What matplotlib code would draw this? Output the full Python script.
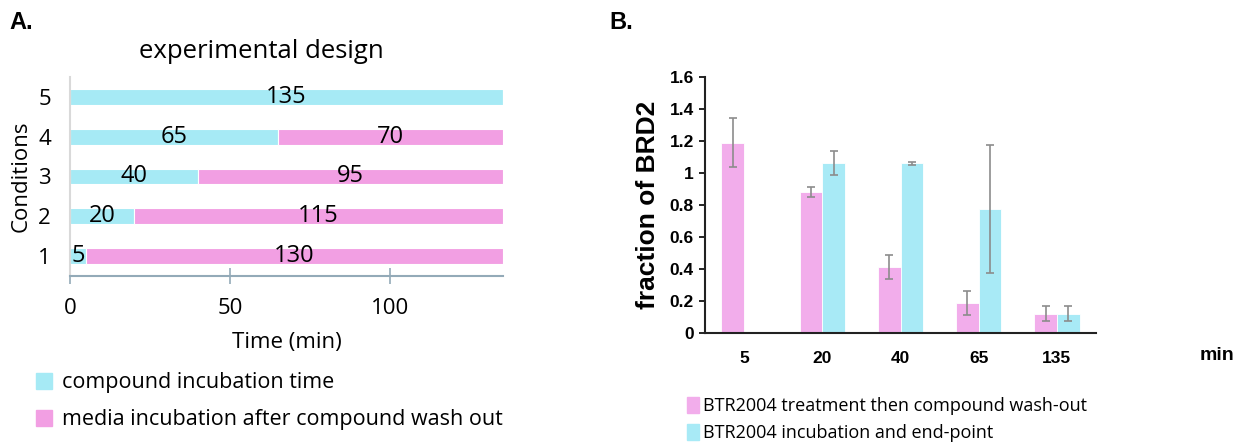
import matplotlib.pyplot as plt
import numpy as np
from matplotlib.patches import Patch

# panel A data
conditions = [1, 2, 3, 4, 5]
compound_time = [5, 20, 40, 65, 135]
media_time = [130, 115, 95, 70, 0]

# panel B data
time_labels = ["5", "20", "40", "65", "135"]
washout = [1.19, 0.88, 0.41, 0.19, 0.12]
washout_err = [0.155, 0.03, 0.075, 0.075, 0.048]
endpoint = [0, 1.06, 1.06, 0.775, 0.12]
endpoint_err = [0, 0.075, 0.008, 0.40, 0.048]

cyanA, pinkA = "#a6eaf5", "#f29fe3"
cyanB, pinkB = "#a8eaf6", "#f2adeb"
sans = ["Open Sans", "DejaVu Sans"]
bold = ["Liberation Sans", "DejaVu Sans"]

fig = plt.figure(figsize=(12.38, 4.45), dpi=100)

# ---------- A ----------
ax = fig.add_axes([0.0569, 0.3798, 0.349, 0.4472])
ax.barh(conditions, compound_time, height=0.4, color=cyanA, edgecolor="white", linewidth=0.8)
ax.barh(conditions, media_time, left=compound_time, height=0.4, color=pinkA,
        edgecolor="white", linewidth=0.8)
for c, a, b in zip(conditions, compound_time, media_time):
    ax.text(a / 2, c, str(a), ha="center", va="center", fontsize=17, family=sans)
    if b > 0:
        ax.text(a + b / 2, c, str(b), ha="center", va="center", fontsize=17, family=sans)
ax.set_xlim(0, 135)
ax.set_ylim(0.5, 5.5)
ax.set_xticks([0, 50, 100])
ax.set_yticks(conditions)
ax.tick_params(axis="y", length=0, pad=14, labelsize=16)
ax.tick_params(axis="x", direction="inout", length=12, color="#93aab8", width=1.2,
               labelsize=16, pad=10)
for lab in ax.get_xticklabels() + ax.get_yticklabels():
    lab.set_family(sans)
for s in ["top", "right"]:
    ax.spines[s].set_visible(False)
ax.spines["bottom"].set_color("#93aab8")
ax.spines["bottom"].set_linewidth(1.5)
ax.spines["left"].set_color("#d9d9d9")
ax.spines["left"].set_linewidth(1.5)
ax.set_xlabel("Time (min)", fontsize=16, family=sans, labelpad=9)
ax.set_ylabel("Conditions", fontsize=16, family=sans, labelpad=5)
ax.set_title("experimental design", fontsize=18.5, family=sans, pad=14, x=0.443)
ax.legend(handles=[Patch(color=cyanA, label="compound incubation time"),
                   Patch(color=pinkA, label="media incubation after compound wash out")],
          loc="upper left", bbox_to_anchor=(-0.1, -0.44), frameon=False,
          prop={"family": sans, "size": 15.5}, handlelength=0.75, handleheight=0.75,
          handletextpad=0.45, labelspacing=0.75, borderaxespad=0)
fig.text(0.008, 0.935, "A.", fontsize=17, fontweight="bold", family=bold)

# ---------- B ----------
bx = fig.add_axes([0.5695, 0.2517, 0.3158, 0.5753])
x = np.arange(len(time_labels))
w = 0.29
ekw = dict(ecolor="#8c8c8c", elinewidth=1.2, capsize=3, capthick=1.2)
bx.bar(x - w / 2, washout, w, color=pinkB, yerr=washout_err, error_kw=ekw,
       edgecolor="white", linewidth=0.6)
bx.bar(x[1:] + w / 2, endpoint[1:], w, color=cyanB, yerr=endpoint_err[1:], error_kw=ekw,
       edgecolor="white", linewidth=0.6)
bx.set_xlim(-0.5, 4.5)
bx.set_ylim(0, 1.6)
bx.set_yticks(np.arange(0, 1.61, 0.2))
bx.set_yticklabels(["0", "0.2", "0.4", "0.6", "0.8", "1", "1.2", "1.4", "1.6"])
bx.set_xticks(x)
bx.set_xticklabels(time_labels)
bx.tick_params(axis="x", length=0, pad=13)
bx.tick_params(axis="y", length=4, width=1.2, pad=4)
for lab in bx.get_xticklabels() + bx.get_yticklabels():
    lab.set_family(bold)
    lab.set_fontweight("bold")
    lab.set_fontsize(12.5)
for s in ["top", "right"]:
    bx.spines[s].set_visible(False)
for s in ["left", "bottom"]:
    bx.spines[s].set_linewidth(1.5)
    bx.spines[s].set_color("#222222")
bx.set_ylabel("fraction of BRD2", fontsize=19, fontweight="bold", family=bold, labelpad=7)
bx.text(5.82, -0.14, "min", ha="left", va="center", fontsize=14, fontweight="bold",
        family=bold)
bx.legend(handles=[Patch(color=pinkB, label="BTR2004 treatment then compound wash-out"),
                   Patch(color=cyanB, label="BTR2004 incubation and end-point")],
          loc="upper left", bbox_to_anchor=(-0.065, -0.22), frameon=False,
          prop={"family": sans, "size": 13}, handlelength=0.67, handleheight=1.0,
          handletextpad=0.25, labelspacing=0.5, borderaxespad=0)
fig.text(0.492, 0.935, "B.", fontsize=17, fontweight="bold", family=bold)

fig.savefig("out.png", dpi=100)
